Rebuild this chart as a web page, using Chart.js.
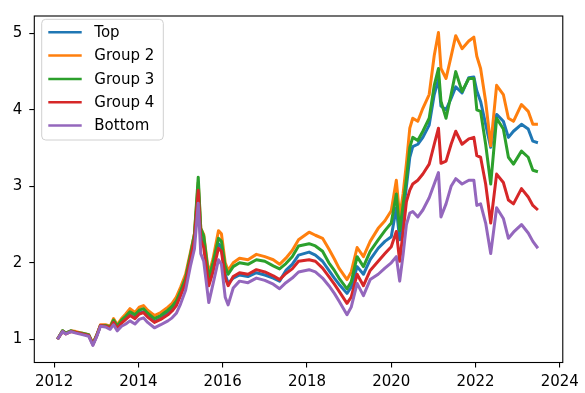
<!DOCTYPE html>
<html>
<head>
<meta charset="utf-8">
<script src="https://cdn.jsdelivr.net/npm/chart.js@4.4.1/dist/chart.umd.min.js"></script>
<style>
html,body{margin:0;padding:0;background:#fff;}
#wrap{width:585px;height:393px;position:relative;}
</style>
</head>
<body>
<div id="wrap"><canvas id="c"></canvas></div>
<script>
// decimal years
const years = [2012.08,2012.2,2012.28,2012.4,2012.52,2012.67,2012.82,2012.92,2013.0,2013.1,2013.22,2013.33,2013.41,2013.5,2013.6,2013.7,2013.8,2013.92,
2014.02,2014.12,2014.22,2014.38,2014.53,2014.7,2014.8,2014.9,2015.0,2015.12,2015.24,2015.33,2015.42,2015.48,2015.55,2015.67,2015.77,2015.9,2015.97,
2016.06,2016.13,2016.25,2016.4,2016.6,2016.8,2017.0,2017.2,2017.35,2017.5,2017.65,2017.8,2018.05,2018.2,2018.37,2018.52,2018.65,2018.76,2018.95,
2019.05,2019.19,2019.34,2019.5,2019.69,2019.85,2020.0,2020.12,2020.2,2020.28,2020.36,2020.44,2020.51,2020.63,2020.75,2020.9,2021.02,2021.12,2021.18,
2021.3,2021.42,2021.53,2021.68,2021.84,2021.96,2022.03,2022.12,2022.24,2022.36,2022.5,2022.66,2022.78,2022.9,2023.09,2023.25,2023.36,2023.48];

const topGroup = [1.0,1.11,1.08,1.11,1.09,1.07,1.05,0.94,1.03,1.18,1.17,1.15,1.23,1.15,1.22,1.27,1.32,1.28,
1.34,1.36,1.30,1.23,1.27,1.34,1.39,1.46,1.59,1.76,2.08,2.33,3.0,2.38,2.28,1.74,1.93,2.25,2.20,
1.85,1.73,1.80,1.84,1.82,1.87,1.84,1.80,1.76,1.90,1.98,2.10,2.14,2.10,2.02,1.90,1.80,1.72,1.60,
1.68,1.95,1.85,2.04,2.19,2.28,2.34,2.72,2.30,2.62,3.0,3.38,3.52,3.55,3.64,3.80,4.20,4.40,4.05,
4.0,4.15,4.30,4.22,4.42,4.43,4.25,4.11,3.81,3.51,3.94,3.85,3.64,3.72,3.81,3.75,3.59,3.57];

const group2 = [1.0,1.11,1.08,1.11,1.10,1.08,1.06,0.95,1.04,1.19,1.19,1.17,1.27,1.19,1.27,1.33,1.40,1.35,
1.42,1.44,1.38,1.31,1.35,1.42,1.47,1.55,1.68,1.85,2.15,2.38,3.05,2.45,2.37,1.85,2.05,2.42,2.38,
2.0,1.90,2.0,2.06,2.04,2.11,2.08,2.04,1.98,2.06,2.16,2.30,2.40,2.36,2.32,2.18,2.05,1.93,1.78,
1.88,2.20,2.08,2.28,2.45,2.55,2.68,3.08,2.60,2.90,3.30,3.76,3.89,3.85,4.02,4.20,4.71,5.01,4.54,
4.41,4.70,4.97,4.80,4.90,4.95,4.70,4.54,4.11,3.53,4.32,4.20,3.89,3.85,4.07,3.98,3.81,3.81];

const group3 = [1.0,1.11,1.08,1.11,1.09,1.08,1.06,0.94,1.04,1.18,1.18,1.16,1.25,1.17,1.25,1.30,1.36,1.32,
1.38,1.40,1.34,1.27,1.31,1.38,1.43,1.50,1.63,1.80,2.12,2.38,3.12,2.45,2.35,1.80,2.0,2.32,2.28,
1.95,1.85,1.95,2.0,1.98,2.04,2.02,1.96,1.92,1.99,2.08,2.22,2.25,2.22,2.15,2.0,1.90,1.80,1.66,
1.75,2.08,1.95,2.15,2.30,2.42,2.52,2.90,2.42,2.75,3.10,3.51,3.64,3.60,3.72,3.89,4.32,4.54,4.11,
3.89,4.20,4.50,4.24,4.41,4.41,4.00,3.98,3.55,3.03,3.89,3.75,3.38,3.29,3.46,3.38,3.21,3.19];

const group4 = [1.0,1.10,1.07,1.10,1.09,1.07,1.05,0.93,1.03,1.18,1.17,1.15,1.22,1.14,1.21,1.26,1.31,1.27,
1.33,1.35,1.29,1.22,1.26,1.32,1.37,1.44,1.57,1.74,2.06,2.31,2.95,2.30,2.20,1.70,1.88,2.19,2.15,
1.80,1.70,1.82,1.87,1.85,1.91,1.88,1.83,1.78,1.86,1.92,2.02,2.04,2.02,1.93,1.82,1.72,1.63,1.47,
1.55,1.85,1.70,1.90,2.02,2.12,2.21,2.41,2.02,2.40,2.80,2.95,3.03,3.08,3.16,3.29,3.55,3.76,3.30,
3.33,3.55,3.72,3.55,3.62,3.64,3.40,3.38,3.03,2.52,3.16,3.05,2.82,2.77,2.97,2.86,2.75,2.69];

const bottomGroup = [1.0,1.10,1.07,1.10,1.08,1.06,1.04,0.92,1.02,1.17,1.16,1.13,1.19,1.11,1.17,1.20,1.24,1.20,
1.26,1.28,1.22,1.15,1.19,1.24,1.28,1.34,1.46,1.64,1.97,2.18,2.78,2.12,2.02,1.48,1.72,2.04,1.98,
1.55,1.45,1.67,1.76,1.74,1.80,1.77,1.72,1.66,1.74,1.80,1.88,1.91,1.88,1.80,1.70,1.60,1.50,1.32,
1.42,1.73,1.57,1.78,1.85,1.93,2.0,2.08,1.76,2.10,2.50,2.65,2.67,2.60,2.69,2.85,3.03,3.18,2.60,
2.77,3.0,3.10,3.03,3.08,3.08,2.75,2.77,2.52,2.12,2.72,2.58,2.32,2.40,2.50,2.39,2.28,2.19];

const seriesNames = ['Top','Group 2','Group 3','Group 4','Bottom'];
const seriesColors = ['#1f77b4','#ff7f0e','#2ca02c','#d62728','#9467bd'];
const seriesValues = [topGroup, group2, group3, group4, bottomGroup];
const xTickValues = [2012,2014,2016,2018,2020,2022,2024];
const yTickValues = [1,2,3,4,5];

const FONT = 'DejaVu Sans';

const datasets = seriesValues.map((vals, i) => ({
  label: seriesNames[i],
  data: vals.map((v, j) => ({x: years[j], y: v})),
  borderColor: seriesColors[i],
  backgroundColor: seriesColors[i],
  borderWidth: 3,
  pointRadius: 0,
  tension: 0,
  fill: false,
  borderJoinStyle: 'round',
  order: seriesValues.length - 1 - i
}));

const framePlugin = {
  id: 'frame',
  afterDatasetsDraw(chart) {
    const ctx = chart.ctx, a = chart.chartArea;
    ctx.save();
    ctx.strokeStyle = '#000';
    ctx.lineWidth = 1.1;
    ctx.strokeRect(a.left, a.top, a.right - a.left, a.bottom - a.top);
    ctx.restore();
  },
  afterDraw(chart) {
    const ctx = chart.ctx;
    const bx = 41.7, by = 19.3, bw = 121.6, bh = 120.7, r = 4;
    ctx.save();
    ctx.beginPath();
    ctx.moveTo(bx + r, by);
    ctx.arcTo(bx + bw, by, bx + bw, by + bh, r);
    ctx.arcTo(bx + bw, by + bh, bx, by + bh, r);
    ctx.arcTo(bx, by + bh, bx, by, r);
    ctx.arcTo(bx, by, bx + bw, by, r);
    ctx.closePath();
    ctx.fillStyle = 'rgba(255,255,255,0.8)';
    ctx.fill();
    ctx.strokeStyle = '#d0d0d0';
    ctx.lineWidth = 1;
    ctx.stroke();
    ctx.font = '15px "' + FONT + '"';
    ctx.textBaseline = 'middle';
    ctx.textAlign = 'left';
    chart.data.datasets.forEach((ds, i) => {
      const y = 32.3 + i * 23.3;
      ctx.beginPath();
      ctx.moveTo(48.3, y);
      ctx.lineTo(81.7, y);
      ctx.strokeStyle = ds.borderColor;
      ctx.lineWidth = 2.5;
      ctx.stroke();
      ctx.fillStyle = '#000';
      ctx.fillText(ds.label, 94.3, y + 1);
    });
    ctx.restore();
  }
};

new Chart(document.getElementById('c'), {
  type: 'line',
  data: { datasets },
  plugins: [framePlugin],
  options: {
    responsive: true,
    maintainAspectRatio: false,
    animation: false,
    layout: { padding: { left: 0, right: 15, top: 11.7, bottom: 0 } },
    plugins: { legend: { display: false }, tooltip: { enabled: false } },
    scales: {
      x: {
        type: 'linear',
        min: 2011.53, max: 2024.07,
        afterBuildTicks: s => { s.ticks = xTickValues.map(v => ({value: v})); },
        afterFit: s => { s.height = 30.5; },
        border: { display: false },
        grid: { display: true, drawOnChartArea: false, drawTicks: true, tickLength: 5, color: '#000', lineWidth: 1.1 },
        ticks: { color: '#000', font: { family: FONT, size: 15 }, padding: 6, maxRotation: 0, autoSkip: false,
                 callback: v => String(v) }
      },
      y: {
        type: 'linear',
        min: 0.696, max: 5.227,
        afterBuildTicks: s => { s.ticks = yTickValues.map(v => ({value: v})); },
        afterFit: s => { s.width = 34.3; },
        border: { display: false },
        grid: { display: true, drawOnChartArea: false, drawTicks: true, tickLength: 5, color: '#000', lineWidth: 1.1 },
        ticks: { color: '#000', font: { family: FONT, size: 15 }, padding: 7, autoSkip: false,
                 callback: v => String(v) }
      }
    }
  }
});
</script>
</body>
</html>
